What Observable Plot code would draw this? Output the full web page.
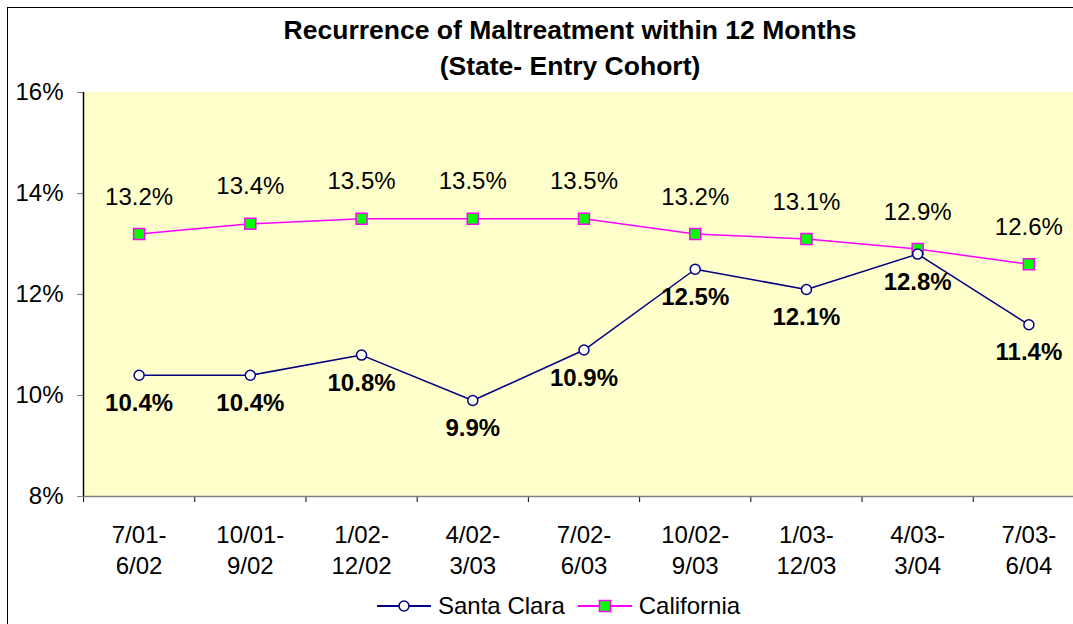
<!DOCTYPE html>
<html>
<head>
<meta charset="utf-8">
<script src="https://cdn.jsdelivr.net/npm/d3@7"></script>
<script src="https://cdn.jsdelivr.net/npm/@observablehq/plot@0.6"></script>
<style>
  html, body { margin: 0; padding: 0; overflow: hidden; background: #fff; width: 1073px; height: 624px; }
  body { font-family: "Liberation Sans", Arial, sans-serif; position: relative; }
  #frame { position: absolute; left: 7px; top: 7px; width: 1126px; height: 700px; border: 1.5px solid #000; box-sizing: border-box; }
  #title { font-weight: bold; font-size: 26.5px; line-height: 36px; text-align: center; padding-top: 4px; height: 72px; color: #000; }
  #legend { position: absolute; left: 377px; top: 591px; display: flex; align-items: center; font-size: 24px; line-height: 30px; color: #000; white-space: nowrap; }
  #legend .item { display: flex; align-items: center; margin-right: 13px; }
  #legend svg { margin-right: 7px; }
</style>
</head>
<body>
<div id="frame">
  <div id="title">Recurrence of Maltreatment within 12 Months<br>(State- Entry Cohort)</div>
  <div id="chart"></div>
</div>
<div id="legend"></div>
<script>
const periods = ["7/01-\n6/02", "10/01-\n9/02", "1/02-\n12/02", "4/02-\n3/03", "7/02-\n6/03", "10/02-\n9/03", "1/03-\n12/03", "4/03-\n3/04", "7/03-\n6/04"];
const santaClara = [10.4, 10.4, 10.8, 9.9, 10.9, 12.5, 12.1, 12.8, 11.4];
const california = [13.2, 13.4, 13.5, 13.5, 13.5, 13.2, 13.1, 12.9, 12.6];
const yTicks = [8, 10, 12, 14, 16];
const seriesNames = ["Santa Clara", "California"];

const navy = "#000080", magenta = "#FF00FF", green = "#00FF00";
const rows = periods.map((p, i) => ({i, p, sc: santaClara[i], ca: california[i]}));
const idx = d3.range(periods.length);
const bounds = d3.range(periods.length + 1).map(k => k - 0.5);

const plot = Plot.plot({
  width: 1086,
  height: 500,
  marginLeft: 75,
  marginRight: 10,
  marginTop: 8,
  marginBottom: 88,
  style: {fontFamily: "Liberation Sans, Arial, sans-serif", background: "transparent", color: "#000", overflow: "visible"},
  x: {type: "linear", domain: [-0.5, periods.length - 0.5], label: null},
  y: {domain: [8, 16], label: null},
  marks: [
    Plot.rect([0], {x1: -0.5, x2: periods.length - 0.5, y1: 8, y2: 16, fill: "#FFFFCC"}),
    Plot.axisY(yTicks, {tickSize: 6, tickPadding: 14, fontSize: 24, stroke: "#808080", tickFormat: d => d + "%", color: "#000", label: null}),
    Plot.axisX(bounds, {tickSize: 6, tickFormat: () => "", stroke: "#000", label: null}),
    Plot.axisX(idx, {tickSize: 0, tickPadding: 24, fontSize: 24, lineHeight: 1.3, tickFormat: i => periods[i], label: null}),
    Plot.ruleY([8], {stroke: "#808080", strokeWidth: 1.5}),
    Plot.ruleX([-0.5], {y1: 8, y2: 16, stroke: "#000", strokeWidth: 1.5}),
    Plot.line(rows, {x: "i", y: "ca", stroke: magenta, strokeWidth: 1.5}),
    Plot.line(rows, {x: "i", y: "sc", stroke: navy, strokeWidth: 1.5}),
    Plot.dot(rows, {x: "i", y: "ca", symbol: "square", r: 6.2, fill: green, stroke: magenta, strokeWidth: 1.5}),
    Plot.dot(rows, {x: "i", y: "sc", symbol: "circle", r: 5, fill: "#fff", stroke: navy, strokeWidth: 1.5}),
    Plot.text(rows, {x: "i", y: "ca", text: d => d.ca.toFixed(1) + "%", dy: -37, fontSize: 24, fill: "#000"}),
    Plot.text(rows, {x: "i", y: "sc", text: d => d.sc.toFixed(1) + "%", dy: 28, fontSize: 24, fontWeight: "bold", fill: "#000"})
  ]
});
document.getElementById("chart").appendChild(plot);

// legend
const legend = document.getElementById("legend");
const swatches = [
  {stroke: navy, marker: `<circle cx="27" cy="10" r="5" fill="#fff" stroke="${navy}" stroke-width="1.5"/>`},
  {stroke: magenta, marker: `<rect x="21.5" y="4.5" width="11" height="11" fill="${green}" stroke="${magenta}" stroke-width="1.5"/>`}
];
seriesNames.forEach((name, k) => {
  const item = document.createElement("div");
  item.className = "item";
  item.innerHTML = `<svg width="54" height="20"><line x1="0" x2="54" y1="10" y2="10" stroke="${swatches[k].stroke}" stroke-width="2"/>${swatches[k].marker}</svg><span>${name}</span>`;
  legend.appendChild(item);
});
</script>
</body>
</html>
